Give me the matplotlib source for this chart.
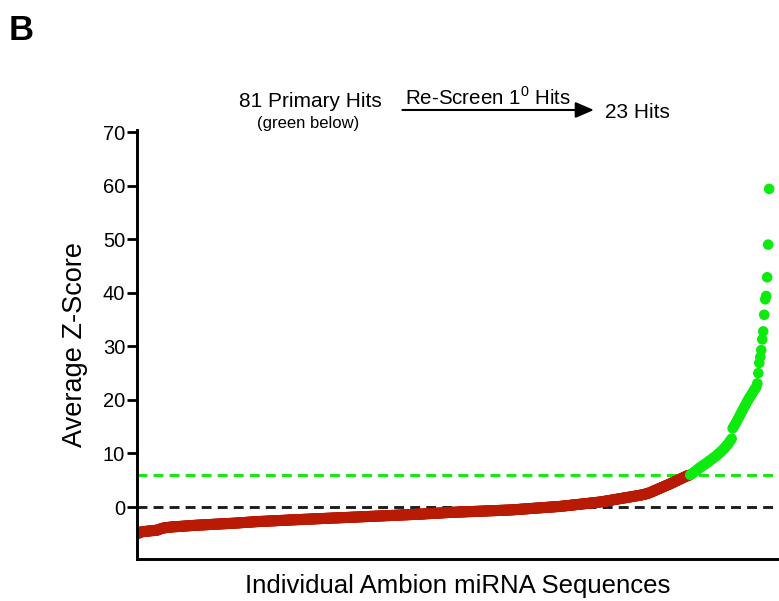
import matplotlib
matplotlib.use("Agg")
import matplotlib.pyplot as plt
import numpy as np

plt.rcParams['font.family'] = ['Liberation Sans', 'DejaVu Sans']
plt.rcParams['mathtext.fontset'] = 'custom'
plt.rcParams['mathtext.rm'] = 'Liberation Sans'

# Sorted average Z-scores (non-hits, red)
red_scores = [
    -4.95, -4.82, -4.70, -4.66, -4.63, -4.60, -4.58, -4.56, -4.54, -4.52, -4.50, -4.48, -4.46, -4.44, -4.42, -4.40, -4.38, -4.36, -4.34, -4.32,
    -4.30, -4.22, -4.14, -4.07, -4.00, -3.95, -3.91, -3.88, -3.85, -3.83, -3.81, -3.79, -3.77, -3.75, -3.73, -3.71, -3.69, -3.68, -3.67, -3.66,
    -3.65, -3.64, -3.62, -3.61, -3.60, -3.58, -3.57, -3.56, -3.54, -3.53, -3.52, -3.50, -3.49, -3.48, -3.46, -3.45, -3.44, -3.43, -3.41, -3.40,
    -3.39, -3.38, -3.37, -3.36, -3.35, -3.34, -3.33, -3.32, -3.31, -3.30, -3.29, -3.28, -3.27, -3.26, -3.25, -3.24, -3.23, -3.22, -3.21, -3.20,
    -3.19, -3.18, -3.17, -3.16, -3.15, -3.14, -3.13, -3.12, -3.11, -3.10, -3.09, -3.08, -3.07, -3.06, -3.05, -3.04, -3.03, -3.02, -3.01, -3.00,
    -2.98, -2.97, -2.96, -2.94, -2.93, -2.92, -2.91, -2.89, -2.88, -2.87, -2.86, -2.84, -2.83, -2.82, -2.81, -2.79, -2.78, -2.77, -2.76, -2.74,
    -2.73, -2.72, -2.71, -2.70, -2.69, -2.68, -2.67, -2.67, -2.66, -2.65, -2.64, -2.63, -2.62, -2.61, -2.60, -2.59, -2.58, -2.58, -2.57, -2.56,
    -2.55, -2.54, -2.53, -2.52, -2.51, -2.50, -2.49, -2.49, -2.48, -2.47, -2.46, -2.45, -2.44, -2.43, -2.42, -2.41, -2.40, -2.40, -2.39, -2.38,
    -2.37, -2.36, -2.35, -2.34, -2.34, -2.33, -2.32, -2.31, -2.30, -2.29, -2.28, -2.28, -2.27, -2.26, -2.25, -2.24, -2.23, -2.23, -2.22, -2.21,
    -2.20, -2.19, -2.18, -2.18, -2.17, -2.16, -2.15, -2.14, -2.13, -2.13, -2.12, -2.11, -2.10, -2.09, -2.09, -2.08, -2.07, -2.06, -2.05, -2.05,
    -2.04, -2.03, -2.02, -2.02, -2.01, -2.00, -1.99, -1.98, -1.97, -1.97, -1.96, -1.95, -1.94, -1.93, -1.93, -1.92, -1.91, -1.90, -1.89, -1.88,
    -1.88, -1.87, -1.86, -1.85, -1.84, -1.83, -1.83, -1.82, -1.81, -1.80, -1.79, -1.78, -1.78, -1.77, -1.76, -1.75, -1.74, -1.74, -1.73, -1.72,
    -1.71, -1.70, -1.70, -1.69, -1.68, -1.67, -1.66, -1.65, -1.65, -1.64, -1.63, -1.62, -1.61, -1.60, -1.60, -1.59, -1.58, -1.57, -1.56, -1.56,
    -1.55, -1.54, -1.53, -1.52, -1.51, -1.51, -1.50, -1.49, -1.48, -1.47, -1.46, -1.46, -1.45, -1.44, -1.43, -1.42, -1.41, -1.41, -1.40, -1.39,
    -1.38, -1.37, -1.36, -1.35, -1.34, -1.33, -1.33, -1.32, -1.31, -1.30, -1.29, -1.27, -1.26, -1.25, -1.24, -1.23, -1.22, -1.21, -1.20, -1.19,
    -1.18, -1.17, -1.16, -1.15, -1.14, -1.13, -1.12, -1.11, -1.10, -1.09, -1.08, -1.06, -1.05, -1.04, -1.03, -1.02, -1.01, -1.00, -0.99, -0.98,
    -0.98, -0.97, -0.96, -0.96, -0.95, -0.94, -0.93, -0.93, -0.92, -0.91, -0.90, -0.90, -0.89, -0.88, -0.87, -0.87, -0.86, -0.85, -0.84, -0.84,
    -0.83, -0.82, -0.81, -0.81, -0.80, -0.79, -0.78, -0.78, -0.77, -0.76, -0.75, -0.75, -0.74, -0.73, -0.72, -0.72, -0.71, -0.70, -0.69, -0.69,
    -0.68, -0.67, -0.66, -0.66, -0.65, -0.64, -0.63, -0.63, -0.62, -0.61, -0.60, -0.60, -0.59, -0.58, -0.57, -0.57, -0.56, -0.55, -0.54, -0.53,
    -0.52, -0.51, -0.49, -0.48, -0.47, -0.45, -0.44, -0.42, -0.41, -0.40, -0.38, -0.37, -0.36, -0.34, -0.33, -0.32, -0.30, -0.29, -0.28, -0.26,
    -0.25, -0.24, -0.22, -0.21, -0.20, -0.18, -0.17, -0.16, -0.14, -0.13, -0.12, -0.10, -0.09, -0.08, -0.06, -0.05, -0.04, -0.02, -0.01, 0.00,
    0.01, 0.03, 0.04, 0.05, 0.07, 0.08, 0.09, 0.11, 0.12, 0.14, 0.16, 0.18, 0.20, 0.22, 0.24, 0.26, 0.28, 0.30, 0.32, 0.34,
    0.36, 0.38, 0.40, 0.42, 0.44, 0.46, 0.48, 0.50, 0.52, 0.54, 0.56, 0.58, 0.60, 0.62, 0.64, 0.66, 0.68, 0.70, 0.72, 0.74,
    0.76, 0.78, 0.80, 0.83, 0.85, 0.87, 0.89, 0.91, 0.93, 0.95, 0.98, 1.01, 1.04, 1.07, 1.10, 1.14, 1.17, 1.20, 1.23, 1.26,
    1.29, 1.32, 1.35, 1.39, 1.42, 1.45, 1.48, 1.51, 1.54, 1.57, 1.60, 1.64, 1.67, 1.70, 1.73, 1.76, 1.79, 1.82, 1.85, 1.89,
    1.92, 1.95, 1.98, 2.01, 2.04, 2.07, 2.10, 2.14, 2.17, 2.20, 2.24, 2.28, 2.32, 2.36, 2.40, 2.45, 2.50, 2.56, 2.62, 2.69,
    2.76, 2.84, 2.92, 3.00, 3.08, 3.16, 3.24, 3.32, 3.40, 3.48, 3.56, 3.64, 3.72, 3.80, 3.88, 3.96, 4.04, 4.12, 4.20, 4.28,
    4.36, 4.45, 4.54, 4.62, 4.71, 4.80, 4.89, 4.97, 5.06, 5.15, 5.24, 5.32, 5.41, 5.50, 5.59, 5.67, 5.76, 5.85, 5.90, 5.95,
]

# Sorted average Z-scores (81 primary hits, green)
green_scores = [
    6.00, 6.12, 6.25, 6.38, 6.52, 6.66, 6.80, 6.95, 7.10, 7.25,
    7.40, 7.52, 7.65, 7.78, 7.90, 8.02, 8.15, 8.28, 8.42, 8.56,
    8.70, 8.83, 8.96, 9.10, 9.24, 9.38, 9.53, 9.68, 9.84, 10.00,
    10.16, 10.33, 10.50, 10.68, 10.87, 11.07, 11.28, 11.50, 11.73, 11.97,
    12.22, 12.48, 12.75,
    14.70, 15.00, 15.30, 15.60, 15.95, 16.30, 16.65,
    17.00, 17.35, 17.70, 18.05, 18.40, 18.75, 19.10, 19.45, 19.80, 20.10,
    20.40, 20.70, 21.00, 21.30, 21.60, 21.90, 22.15,
    22.40, 23.10, 25.00, 26.90, 28.00, 29.30, 31.30, 32.80, 35.90, 38.80,
    39.40, 42.90, 49.00, 59.40,
]

hit_threshold = 6.0
y_ticks = [0, 10, 20, 30, 40, 50, 60, 70]

red_col = '#B81A04'
green_col = '#0DEA0D'

fig = plt.figure(figsize=(7.79, 6.01), dpi=100)
ax = fig.add_axes([0.1759, 0.0699, 0.8241, 0.7138])

n_red = len(red_scores)
x_red = np.arange(n_red)
x_green = np.arange(n_red, n_red + len(green_scores))

ax.axhline(0, color='#1e1e1e', lw=2.1, ls=(0, (3.4, 2.1)), zorder=1)
ax.axhline(hit_threshold, color=green_col, lw=2.1, ls=(0, (3.4, 2.1)), zorder=1)

ax.scatter(x_red, red_scores, s=64, color=red_col, edgecolors='none', zorder=2)
ax.scatter(x_green, green_scores, s=58, color=green_col, edgecolors='none', zorder=3)

ax.set_xlim(-1, 650)
ax.set_ylim(-9.7, 70.4)
ax.set_yticks(y_ticks)
ax.set_xticks([])
ax.tick_params(axis='y', direction='out', length=7, width=2.0, labelsize=14.5, pad=1.5)
for s in ['top', 'right']:
    ax.spines[s].set_visible(False)
for s in ['left', 'bottom']:
    ax.spines[s].set_linewidth(2.1)

ax.set_ylabel('Average Z-Score', fontsize=19.5, labelpad=11)
ax.set_xlabel('Individual Ambion miRNA Sequences', fontsize=18.5, labelpad=11)

# Panel label
fig.text(0.011, 0.934, 'B', fontsize=25, fontweight='bold', ha='left', va='baseline')

# Annotation above axes
fig.text(0.399, 0.831, '81 Primary Hits', fontsize=15, ha='center', va='center')
fig.text(0.396, 0.795, '(green below)', fontsize=12, ha='center', va='center')
fig.text(0.627, 0.838, r'Re-Screen 1$^{\mathrm{0}}$ Hits', fontsize=14.8, ha='center', va='center')
fig.text(0.818, 0.812, '23 Hits', fontsize=15, ha='center', va='center')
fig.add_artist(matplotlib.patches.FancyArrowPatch(
    (0.513, 0.817), (0.766, 0.817), transform=fig.transFigure,
    arrowstyle='-|>,head_length=7,head_width=3', mutation_scale=1.6,
    color='black', lw=1.5))

fig.savefig('out.png', dpi=100)
